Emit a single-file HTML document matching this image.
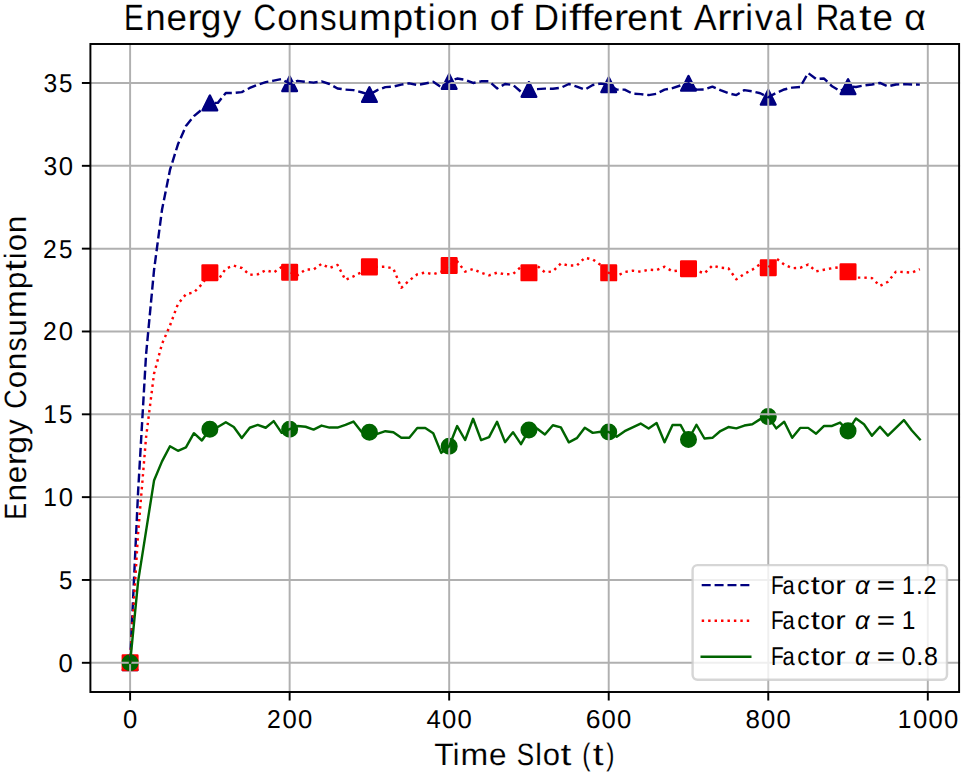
<!DOCTYPE html>
<html><head><meta charset="utf-8"><title>Energy Consumption of Different Arrival Rate</title>
<style>
html,body{margin:0;padding:0;background:#fff;}
body{width:964px;height:774px;overflow:hidden;}
svg{display:block;font-family:"Liberation Sans", sans-serif;}
text{text-rendering:geometricPrecision;}
</style></head><body>
<svg width="964" height="774" viewBox="0 0 964 774">
<rect width="964" height="774" fill="#fff"/>

<defs><clipPath id="ax"><rect x="90.4" y="44.0" width="868.70" height="648.00"/></clipPath></defs>
<g id="markers" clip-path="url(#ax)" stroke-linejoin="round">
<g fill="#000080" stroke="#000080" stroke-width="2.43"><path d="M130.10,655.50L122.80,670.10L137.40,670.10Z"/><path d="M209.87,95.57L202.57,110.17L217.17,110.17Z"/><path d="M289.64,76.52L282.34,91.12L296.94,91.12Z"/><path d="M369.41,87.29L362.11,101.89L376.71,101.89Z"/><path d="M449.18,74.20L441.88,88.80L456.48,88.80Z"/><path d="M528.95,82.15L521.65,96.75L536.25,96.75Z"/><path d="M608.72,77.51L601.42,92.11L616.02,92.11Z"/><path d="M688.49,76.02L681.19,90.62L695.79,90.62Z"/><path d="M768.26,89.94L760.96,104.54L775.56,104.54Z"/><path d="M848.03,79.34L840.73,93.93L855.33,93.93Z"/></g>
<g fill="#ff0000" stroke="#ff0000" stroke-width="2.43"><rect x="122.80" y="655.50" width="14.60" height="14.60"/><rect x="202.57" y="265.37" width="14.60" height="14.60"/><rect x="282.34" y="264.87" width="14.60" height="14.60"/><rect x="362.11" y="259.57" width="14.60" height="14.60"/><rect x="441.88" y="258.25" width="14.60" height="14.60"/><rect x="521.65" y="265.54" width="14.60" height="14.60"/><rect x="601.42" y="265.54" width="14.60" height="14.60"/><rect x="681.19" y="261.40" width="14.60" height="14.60"/><rect x="760.96" y="260.40" width="14.60" height="14.60"/><rect x="840.73" y="264.54" width="14.60" height="14.60"/></g>
<g fill="#006400" stroke="#006400" stroke-width="2.43"><circle cx="130.10" cy="662.80" r="7.30"/><circle cx="209.87" cy="429.22" r="7.30"/><circle cx="289.64" cy="429.22" r="7.30"/><circle cx="369.41" cy="432.20" r="7.30"/><circle cx="449.18" cy="446.28" r="7.30"/><circle cx="528.95" cy="430.05" r="7.30"/><circle cx="608.72" cy="432.04" r="7.30"/><circle cx="688.49" cy="439.49" r="7.30"/><circle cx="768.26" cy="416.63" r="7.30"/><circle cx="848.03" cy="430.88" r="7.30"/></g>
</g>
<g id="grid" stroke="#b0b0b0" stroke-width="1.95" stroke-linecap="square"><line x1="130.10" y1="44.0" x2="130.10" y2="692.0"/><line x1="289.64" y1="44.0" x2="289.64" y2="692.0"/><line x1="449.18" y1="44.0" x2="449.18" y2="692.0"/><line x1="608.72" y1="44.0" x2="608.72" y2="692.0"/><line x1="768.26" y1="44.0" x2="768.26" y2="692.0"/><line x1="927.80" y1="44.0" x2="927.80" y2="692.0"/><line x1="90.4" y1="662.80" x2="959.1" y2="662.80"/><line x1="90.4" y1="579.97" x2="959.1" y2="579.97"/><line x1="90.4" y1="497.14" x2="959.1" y2="497.14"/><line x1="90.4" y1="414.31" x2="959.1" y2="414.31"/><line x1="90.4" y1="331.48" x2="959.1" y2="331.48"/><line x1="90.4" y1="248.65" x2="959.1" y2="248.65"/><line x1="90.4" y1="165.82" x2="959.1" y2="165.82"/><line x1="90.4" y1="82.99" x2="959.1" y2="82.99"/></g>
<g id="series" clip-path="url(#ax)">
<polyline points="130.10,662.80 138.08,492.17 146.05,354.67 154.03,270.19 162.01,209.72 169.98,169.96 177.96,144.28 185.94,126.06 193.92,116.12 201.89,109.50 209.87,102.87 217.85,102.87 225.82,92.93 233.80,92.93 241.78,92.10 249.75,87.96 257.73,84.65 265.71,82.16 273.69,80.67 281.66,79.01 289.64,83.82 297.62,80.84 305.59,81.83 313.57,82.66 321.55,81.33 329.52,83.98 337.50,88.46 345.48,89.62 353.46,90.11 361.43,92.27 369.41,94.59 377.39,90.11 385.36,87.13 393.34,86.63 401.32,84.65 409.29,83.32 417.27,84.98 425.25,83.49 433.23,81.83 441.20,87.13 449.18,81.50 457.16,78.52 465.13,79.84 473.11,82.99 481.09,81.33 489.06,81.33 497.04,88.46 505.02,83.98 513.00,84.98 520.97,91.77 528.95,89.45 536.93,89.12 544.90,88.62 552.88,88.79 560.86,87.79 568.83,83.98 576.81,86.63 584.79,89.62 592.77,84.98 600.74,83.65 608.72,84.81 616.70,89.62 624.67,89.62 632.65,93.76 640.63,94.09 648.61,95.08 656.58,93.76 664.56,89.62 672.54,88.13 680.51,85.47 688.49,83.32 696.47,89.62 704.44,89.45 712.42,86.63 720.40,90.11 728.38,93.26 736.35,95.08 744.33,90.11 752.31,91.27 760.28,93.26 768.26,97.24 776.24,92.93 784.21,89.45 792.19,87.63 800.17,86.97 808.14,73.05 816.12,79.01 824.10,78.52 832.08,86.30 840.05,90.94 848.03,86.63 856.01,86.97 863.98,85.47 871.96,84.48 879.94,82.99 887.91,86.30 895.89,84.48 903.87,84.15 911.85,84.48 919.82,84.65" fill="none" stroke="#000080" stroke-width="2.43" stroke-dasharray="9.00 3.89" stroke-linejoin="round" stroke-linecap="butt"/>
<polyline points="130.10,662.80 138.08,533.59 146.05,437.50 154.03,373.72 162.01,343.90 169.98,325.52 177.96,303.98 185.94,294.21 193.92,292.38 201.89,284.27 209.87,272.67 217.85,280.46 225.82,268.53 233.80,265.55 241.78,268.03 249.75,274.82 257.73,274.33 265.71,270.19 273.69,272.51 281.66,266.87 289.64,272.17 297.62,275.16 305.59,269.52 313.57,269.52 321.55,263.89 329.52,268.03 337.50,264.88 345.48,279.96 353.46,276.32 361.43,272.17 369.41,266.87 377.39,266.87 385.36,266.71 393.34,268.53 401.32,287.75 409.29,280.46 417.27,274.33 425.25,272.51 433.23,274.33 441.20,271.68 449.18,265.55 457.16,261.24 465.13,271.68 473.11,269.03 481.09,272.67 489.06,275.32 497.04,272.67 505.02,274.33 513.00,274.00 520.97,266.87 528.95,272.84 536.93,265.55 544.90,272.34 552.88,271.35 560.86,263.56 568.83,265.55 576.81,265.55 584.79,257.76 592.77,259.42 600.74,265.05 608.72,272.84 616.70,275.98 624.67,272.01 632.65,270.68 640.63,271.68 648.61,269.69 656.58,270.19 664.56,266.71 672.54,271.35 680.51,270.19 688.49,268.69 696.47,270.68 704.44,273.33 712.42,265.55 720.40,267.70 728.38,268.20 736.35,279.30 744.33,273.83 752.31,269.69 760.28,264.06 768.26,267.70 776.24,258.42 784.21,264.55 792.19,268.20 800.17,267.87 808.14,264.55 816.12,271.35 824.10,269.69 832.08,268.20 840.05,267.20 848.03,271.84 856.01,277.64 863.98,277.64 871.96,278.14 879.94,285.92 887.91,281.78 895.89,271.68 903.87,272.01 911.85,272.67 919.82,269.19" fill="none" stroke="#ff0000" stroke-width="2.43" stroke-dasharray="2.43 4.01" stroke-linejoin="round" stroke-linecap="butt"/>
<polyline points="130.10,662.80 138.08,581.63 146.05,531.10 154.03,480.57 162.01,461.36 169.98,446.28 177.96,450.76 185.94,447.44 193.92,433.20 201.89,440.48 209.87,429.22 217.85,427.07 225.82,422.26 233.80,427.07 241.78,438.00 249.75,427.73 257.73,424.91 265.71,427.73 273.69,421.10 281.66,432.86 289.64,429.22 297.62,426.07 305.59,426.73 313.57,429.55 321.55,425.57 329.52,427.56 337.50,427.56 345.48,424.91 353.46,421.60 361.43,431.70 369.41,432.20 377.39,433.86 385.36,431.21 393.34,432.20 401.32,437.67 409.29,437.67 417.27,428.06 425.25,428.06 433.23,433.20 441.20,452.91 449.18,446.28 457.16,426.07 465.13,439.99 473.11,418.78 481.09,440.15 489.06,437.17 497.04,421.76 505.02,442.14 513.00,432.20 520.97,444.13 528.95,430.05 536.93,428.56 544.90,434.52 552.88,425.24 560.86,427.40 568.83,442.31 576.81,438.17 584.79,427.73 592.77,432.86 600.74,431.70 608.72,432.04 616.70,436.67 624.67,431.21 632.65,427.40 640.63,423.59 648.61,428.56 656.58,422.92 664.56,442.31 672.54,424.91 680.51,424.91 688.49,439.49 696.47,424.75 704.44,438.50 712.42,437.83 720.40,431.04 728.38,427.07 736.35,428.39 744.33,425.57 752.31,424.25 760.28,419.11 768.26,416.63 776.24,428.39 784.21,421.76 792.19,437.83 800.17,427.89 808.14,427.89 816.12,433.69 824.10,425.91 832.08,425.91 840.05,422.59 848.03,430.88 856.01,418.45 863.98,424.25 871.96,435.68 879.94,426.73 887.91,435.68 895.89,427.89 903.87,420.11 911.85,430.54 919.82,439.32" fill="none" stroke="#006400" stroke-width="2.43" stroke-linejoin="round" stroke-linecap="square"/>
</g>
<rect id="spines" x="90.4" y="44.0" width="868.70" height="648.00" fill="none" stroke="#000" stroke-width="1.95" stroke-linejoin="miter"/>
<g id="ticks" stroke="#000" stroke-width="1.95"><line x1="130.10" y1="692.0" x2="130.10" y2="700.52"/><line x1="289.64" y1="692.0" x2="289.64" y2="700.52"/><line x1="449.18" y1="692.0" x2="449.18" y2="700.52"/><line x1="608.72" y1="692.0" x2="608.72" y2="700.52"/><line x1="768.26" y1="692.0" x2="768.26" y2="700.52"/><line x1="927.80" y1="692.0" x2="927.80" y2="700.52"/><line x1="81.88" y1="662.80" x2="90.4" y2="662.80"/><line x1="81.88" y1="579.97" x2="90.4" y2="579.97"/><line x1="81.88" y1="497.14" x2="90.4" y2="497.14"/><line x1="81.88" y1="414.31" x2="90.4" y2="414.31"/><line x1="81.88" y1="331.48" x2="90.4" y2="331.48"/><line x1="81.88" y1="248.65" x2="90.4" y2="248.65"/><line x1="81.88" y1="165.82" x2="90.4" y2="165.82"/><line x1="81.88" y1="82.99" x2="90.4" y2="82.99"/></g>
<g id="texts" fill="#000">
<text transform="translate(123.93,29.87) scale(0.8032,1)" font-size="36.80" stroke="#fff" stroke-width="0.13">E</text>
<text transform="translate(145.19,29.87) scale(0.9993,1)" font-size="36.80" stroke="#fff" stroke-width="0.13">n</text>
<text transform="translate(166.38,29.87) scale(1.0011,1)" font-size="36.80" stroke="#fff" stroke-width="0.13">e</text>
<text transform="translate(187.16,29.87) scale(1.1875,1)" font-size="36.80" stroke="#fff" stroke-width="0.13">r</text>
<text transform="translate(200.80,29.87) scale(1.0073,1)" font-size="36.80" stroke="#fff" stroke-width="0.13">g</text>
<text transform="translate(223.06,29.87) scale(0.9953,1)" font-size="36.80" stroke="#fff" stroke-width="0.13">y</text>
<text transform="translate(253.36,29.87) scale(0.8604,1)" font-size="36.80" stroke="#fff" stroke-width="0.13">C</text>
<text transform="translate(277.19,29.87) scale(0.9853,1)" font-size="36.80" stroke="#fff" stroke-width="0.13">o</text>
<text transform="translate(298.39,29.87) scale(0.9993,1)" font-size="36.80" stroke="#fff" stroke-width="0.13">n</text>
<text transform="translate(320.20,29.87) scale(0.8884,1)" font-size="36.80" stroke="#fff" stroke-width="0.13">s</text>
<text transform="translate(337.54,29.87) scale(0.9993,1)" font-size="36.80" stroke="#fff" stroke-width="0.13">u</text>
<text transform="translate(359.08,29.87) scale(1.0560,1)" font-size="36.80" stroke="#fff" stroke-width="0.13">m</text>
<text transform="translate(392.44,29.87) scale(1.0083,1)" font-size="36.80" stroke="#fff" stroke-width="0.13">p</text>
<text transform="translate(413.61,29.87) scale(1.2387,1)" font-size="36.80" stroke="#fff" stroke-width="0.13">t</text>
<text transform="translate(427.66,29.87) scale(0.9474,1)" font-size="36.80" stroke="#fff" stroke-width="0.13">i</text>
<text transform="translate(436.65,29.87) scale(0.9853,1)" font-size="36.80" stroke="#fff" stroke-width="0.13">o</text>
<text transform="translate(457.85,29.87) scale(0.9993,1)" font-size="36.80" stroke="#fff" stroke-width="0.13">n</text>
<text transform="translate(489.84,29.87) scale(0.9853,1)" font-size="36.80" stroke="#fff" stroke-width="0.13">o</text>
<text transform="translate(510.53,29.87) scale(1.2170,1)" font-size="36.80" stroke="#fff" stroke-width="0.13">f</text>
<text transform="translate(533.49,29.87) scale(0.9589,1)" font-size="36.80" stroke="#fff" stroke-width="0.13">D</text>
<text transform="translate(560.21,29.87) scale(0.9474,1)" font-size="36.80" stroke="#fff" stroke-width="0.13">i</text>
<text transform="translate(568.98,29.87) scale(1.2170,1)" font-size="36.80" stroke="#fff" stroke-width="0.13">f</text>
<text transform="translate(580.88,29.87) scale(1.2170,1)" font-size="36.80" stroke="#fff" stroke-width="0.13">f</text>
<text transform="translate(592.93,29.87) scale(1.0011,1)" font-size="36.80" stroke="#fff" stroke-width="0.13">e</text>
<text transform="translate(613.72,29.87) scale(1.1875,1)" font-size="36.80" stroke="#fff" stroke-width="0.13">r</text>
<text transform="translate(627.23,29.87) scale(1.0011,1)" font-size="36.80" stroke="#fff" stroke-width="0.13">e</text>
<text transform="translate(648.47,29.87) scale(0.9993,1)" font-size="36.80" stroke="#fff" stroke-width="0.13">n</text>
<text transform="translate(669.57,29.87) scale(1.2387,1)" font-size="36.80" stroke="#fff" stroke-width="0.13">t</text>
<text transform="translate(693.70,29.87) scale(0.9336,1)" font-size="36.80" stroke="#fff" stroke-width="0.13">A</text>
<text transform="translate(716.98,29.87) scale(1.1875,1)" font-size="36.80" stroke="#fff" stroke-width="0.13">r</text>
<text transform="translate(730.49,29.87) scale(1.1875,1)" font-size="36.80" stroke="#fff" stroke-width="0.13">r</text>
<text transform="translate(745.32,29.87) scale(0.9474,1)" font-size="36.80" stroke="#fff" stroke-width="0.13">i</text>
<text transform="translate(754.84,29.87) scale(1.0002,1)" font-size="36.80" stroke="#fff" stroke-width="0.13">v</text>
<text transform="translate(774.85,29.87) scale(0.8334,1)" font-size="36.80" stroke="#fff" stroke-width="0.13">a</text>
<text transform="translate(795.75,29.87) scale(0.9474,1)" font-size="36.80" stroke="#fff" stroke-width="0.13">l</text>
<text transform="translate(815.83,29.87) scale(0.8864,1)" font-size="36.80" stroke="#fff" stroke-width="0.13">R</text>
<text transform="translate(838.81,29.87) scale(0.8334,1)" font-size="36.80" stroke="#fff" stroke-width="0.13">a</text>
<text transform="translate(859.07,29.87) scale(1.2387,1)" font-size="36.80" stroke="#fff" stroke-width="0.13">t</text>
<text transform="translate(872.55,29.87) scale(1.0011,1)" font-size="36.80" stroke="#fff" stroke-width="0.13">e</text>
<text transform="translate(904.21,29.87) scale(1.0160,1)" font-size="36.80" stroke="#fff" stroke-width="0.13">α</text>
<text transform="translate(434.36,765.07) scale(1.0305,1)" font-size="30.90" stroke="#fff" stroke-width="0.13">T</text>
<text transform="translate(452.79,765.07) scale(0.9659,1)" font-size="30.90" stroke="#fff" stroke-width="0.13">i</text>
<text transform="translate(460.61,765.07) scale(1.0765,1)" font-size="30.90" stroke="#fff" stroke-width="0.13">m</text>
<text transform="translate(488.94,765.07) scale(1.0206,1)" font-size="30.90" stroke="#fff" stroke-width="0.13">e</text>
<text transform="translate(516.66,765.07) scale(0.8423,1)" font-size="30.90" stroke="#fff" stroke-width="0.13">S</text>
<text transform="translate(535.15,765.07) scale(0.9659,1)" font-size="30.90" stroke="#fff" stroke-width="0.13">l</text>
<text transform="translate(542.85,765.07) scale(1.0045,1)" font-size="30.90" stroke="#fff" stroke-width="0.13">o</text>
<text transform="translate(560.61,765.07) scale(1.2628,1)" font-size="30.90" stroke="#fff" stroke-width="0.13">t</text>
<text transform="translate(582.14,765.07) scale(0.7987,1)" font-size="30.90" stroke="#fff" stroke-width="0.13">(</text>
<text transform="translate(592.73,765.07) scale(1.2628,1)" font-size="30.90" stroke="#fff" stroke-width="0.13">t</text>
<text transform="translate(606.23,765.07) scale(0.7987,1)" font-size="30.90" stroke="#fff" stroke-width="0.13">)</text>
<text transform="translate(26.05,519.79) rotate(-90) scale(0.8189,1)" font-size="30.90" stroke="#fff" stroke-width="0.13">E</text>
<text transform="translate(26.05,501.52) rotate(-90) scale(1.0187,1)" font-size="30.90" stroke="#fff" stroke-width="0.13">n</text>
<text transform="translate(26.05,483.31) rotate(-90) scale(1.0206,1)" font-size="30.90" stroke="#fff" stroke-width="0.13">e</text>
<text transform="translate(26.05,465.41) rotate(-90) scale(1.2106,1)" font-size="30.90" stroke="#fff" stroke-width="0.13">r</text>
<text transform="translate(26.05,453.68) rotate(-90) scale(1.0269,1)" font-size="30.90" stroke="#fff" stroke-width="0.13">g</text>
<text transform="translate(26.05,434.66) rotate(-90) scale(1.0147,1)" font-size="30.90" stroke="#fff" stroke-width="0.13">y</text>
<text transform="translate(26.05,408.69) rotate(-90) scale(0.8771,1)" font-size="30.90" stroke="#fff" stroke-width="0.13">C</text>
<text transform="translate(26.05,388.27) rotate(-90) scale(1.0045,1)" font-size="30.90" stroke="#fff" stroke-width="0.13">o</text>
<text transform="translate(26.05,370.15) rotate(-90) scale(1.0187,1)" font-size="30.90" stroke="#fff" stroke-width="0.13">n</text>
<text transform="translate(26.05,351.40) rotate(-90) scale(0.9057,1)" font-size="30.90" stroke="#fff" stroke-width="0.13">s</text>
<text transform="translate(26.05,336.40) rotate(-90) scale(1.0187,1)" font-size="30.90" stroke="#fff" stroke-width="0.13">u</text>
<text transform="translate(26.05,317.89) rotate(-90) scale(1.0765,1)" font-size="30.90" stroke="#fff" stroke-width="0.13">m</text>
<text transform="translate(26.05,289.23) rotate(-90) scale(1.0280,1)" font-size="30.90" stroke="#fff" stroke-width="0.13">p</text>
<text transform="translate(26.05,271.01) rotate(-90) scale(1.2628,1)" font-size="30.90" stroke="#fff" stroke-width="0.13">t</text>
<text transform="translate(26.05,258.95) rotate(-90) scale(0.9659,1)" font-size="30.90" stroke="#fff" stroke-width="0.13">i</text>
<text transform="translate(26.05,251.27) rotate(-90) scale(1.0045,1)" font-size="30.90" stroke="#fff" stroke-width="0.13">o</text>
<text transform="translate(26.05,233.15) rotate(-90) scale(1.0187,1)" font-size="30.90" stroke="#fff" stroke-width="0.13">n</text>
<text transform="translate(122.96,728.00) scale(0.9941,1)" font-size="25.80">0</text>
<text transform="translate(266.96,728.00) scale(0.9582,1)" font-size="25.80">2</text>
<text transform="translate(282.52,728.00) scale(0.9941,1)" font-size="25.80">0</text>
<text transform="translate(298.02,728.00) scale(0.9941,1)" font-size="25.80">0</text>
<text transform="translate(426.56,728.00) scale(0.9942,1)" font-size="25.80">4</text>
<text transform="translate(442.06,728.00) scale(0.9941,1)" font-size="25.80">0</text>
<text transform="translate(457.56,728.00) scale(0.9941,1)" font-size="25.80">0</text>
<text transform="translate(585.85,728.00) scale(1.0288,1)" font-size="25.80">6</text>
<text transform="translate(601.60,728.00) scale(0.9941,1)" font-size="25.80">0</text>
<text transform="translate(617.10,728.00) scale(0.9941,1)" font-size="25.80">0</text>
<text transform="translate(745.57,728.00) scale(1.0048,1)" font-size="25.80">8</text>
<text transform="translate(761.02,728.00) scale(0.9941,1)" font-size="25.80">0</text>
<text transform="translate(776.52,728.00) scale(0.9941,1)" font-size="25.80">0</text>
<text transform="translate(897.65,728.00) scale(0.9494,1)" font-size="25.80">1</text>
<text transform="translate(912.94,728.00) scale(0.9941,1)" font-size="25.80">0</text>
<text transform="translate(928.44,728.00) scale(0.9941,1)" font-size="25.80">0</text>
<text transform="translate(943.94,728.00) scale(0.9941,1)" font-size="25.80">0</text>
<text transform="translate(58.62,671.70) scale(0.9941,1)" font-size="25.80">0</text>
<text transform="translate(58.93,588.87) scale(0.9382,1)" font-size="25.80">5</text>
<text transform="translate(43.35,506.04) scale(0.9494,1)" font-size="25.80">1</text>
<text transform="translate(58.64,506.04) scale(0.9941,1)" font-size="25.80">0</text>
<text transform="translate(43.35,423.21) scale(0.9494,1)" font-size="25.80">1</text>
<text transform="translate(58.95,423.21) scale(0.9382,1)" font-size="25.80">5</text>
<text transform="translate(43.08,340.38) scale(0.9582,1)" font-size="25.80">2</text>
<text transform="translate(58.64,340.38) scale(0.9941,1)" font-size="25.80">0</text>
<text transform="translate(43.08,257.55) scale(0.9582,1)" font-size="25.80">2</text>
<text transform="translate(58.95,257.55) scale(0.9382,1)" font-size="25.80">5</text>
<text transform="translate(43.46,174.72) scale(0.9547,1)" font-size="25.80">3</text>
<text transform="translate(58.64,174.72) scale(0.9941,1)" font-size="25.80">0</text>
<text transform="translate(43.46,91.89) scale(0.9547,1)" font-size="25.80">3</text>
<text transform="translate(58.95,91.89) scale(0.9382,1)" font-size="25.80">5</text>
</g>
<g id="legend">
<rect x="692.6" y="565.1" width="254.40" height="114.60" rx="4.87" ry="4.87" fill="#fff" fill-opacity="0.8" stroke="#cccccc" stroke-opacity="0.8" stroke-width="2.43"/>
<line x1="701.7" y1="585.1" x2="750.3" y2="585.1" stroke="#000080" stroke-width="2.43" stroke-dasharray="9.00 3.89"/>
<line x1="701.7" y1="620.8" x2="750.3" y2="620.8" stroke="#ff0000" stroke-width="2.43" stroke-dasharray="2.43 4.01"/>
<line x1="701.7" y1="656.8" x2="750.3" y2="656.8" stroke="#006400" stroke-width="2.43" stroke-linecap="square"/>
<text transform="translate(770.99,593.57) scale(0.8083,1)" font-size="25.80">F</text>
<text transform="translate(782.59,593.57) scale(0.8480,1)" font-size="25.80">a</text>
<text transform="translate(797.37,593.57) scale(0.9462,1)" font-size="25.80">c</text>
<text transform="translate(810.72,593.57) scale(1.2604,1)" font-size="25.80">t</text>
<text transform="translate(820.44,593.57) scale(1.0025,1)" font-size="25.80">o</text>
<text transform="translate(835.33,593.57) scale(1.2082,1)" font-size="25.80">r</text>
<text transform="translate(854.95,593.57) scale(0.9940,1)" font-size="25.80" font-style="italic">α</text>
<text transform="translate(876.85,593.57) scale(1.2150,1)" font-size="25.80">=</text>
<text transform="translate(901.94,593.57) scale(0.8952,1)" font-size="25.80">1</text>
<text transform="translate(915.98,593.57) scale(0.9621,1)" font-size="25.80">.</text>
<text transform="translate(923.61,593.57) scale(0.9034,1)" font-size="25.80">2</text>
<text transform="translate(770.99,629.20) scale(0.8083,1)" font-size="25.80">F</text>
<text transform="translate(782.59,629.20) scale(0.8480,1)" font-size="25.80">a</text>
<text transform="translate(797.37,629.20) scale(0.9462,1)" font-size="25.80">c</text>
<text transform="translate(810.72,629.20) scale(1.2604,1)" font-size="25.80">t</text>
<text transform="translate(820.44,629.20) scale(1.0025,1)" font-size="25.80">o</text>
<text transform="translate(835.33,629.20) scale(1.2082,1)" font-size="25.80">r</text>
<text transform="translate(854.95,629.20) scale(0.9940,1)" font-size="25.80" font-style="italic">α</text>
<text transform="translate(876.85,629.20) scale(1.2150,1)" font-size="25.80">=</text>
<text transform="translate(901.83,629.20) scale(0.9494,1)" font-size="25.80">1</text>
<text transform="translate(770.99,664.80) scale(0.8083,1)" font-size="25.80">F</text>
<text transform="translate(782.59,664.80) scale(0.8480,1)" font-size="25.80">a</text>
<text transform="translate(797.37,664.80) scale(0.9462,1)" font-size="25.80">c</text>
<text transform="translate(810.72,664.80) scale(1.2604,1)" font-size="25.80">t</text>
<text transform="translate(820.44,664.80) scale(1.0025,1)" font-size="25.80">o</text>
<text transform="translate(835.33,664.80) scale(1.2082,1)" font-size="25.80">r</text>
<text transform="translate(854.95,664.80) scale(0.9940,1)" font-size="25.80" font-style="italic">α</text>
<text transform="translate(876.85,664.80) scale(1.2150,1)" font-size="25.80">=</text>
<text transform="translate(901.73,664.80) scale(0.9587,1)" font-size="25.80">0</text>
<text transform="translate(916.29,664.80) scale(0.9841,1)" font-size="25.80">.</text>
<text transform="translate(924.08,664.80) scale(0.9691,1)" font-size="25.80">8</text>
</g>
</svg></body></html>
